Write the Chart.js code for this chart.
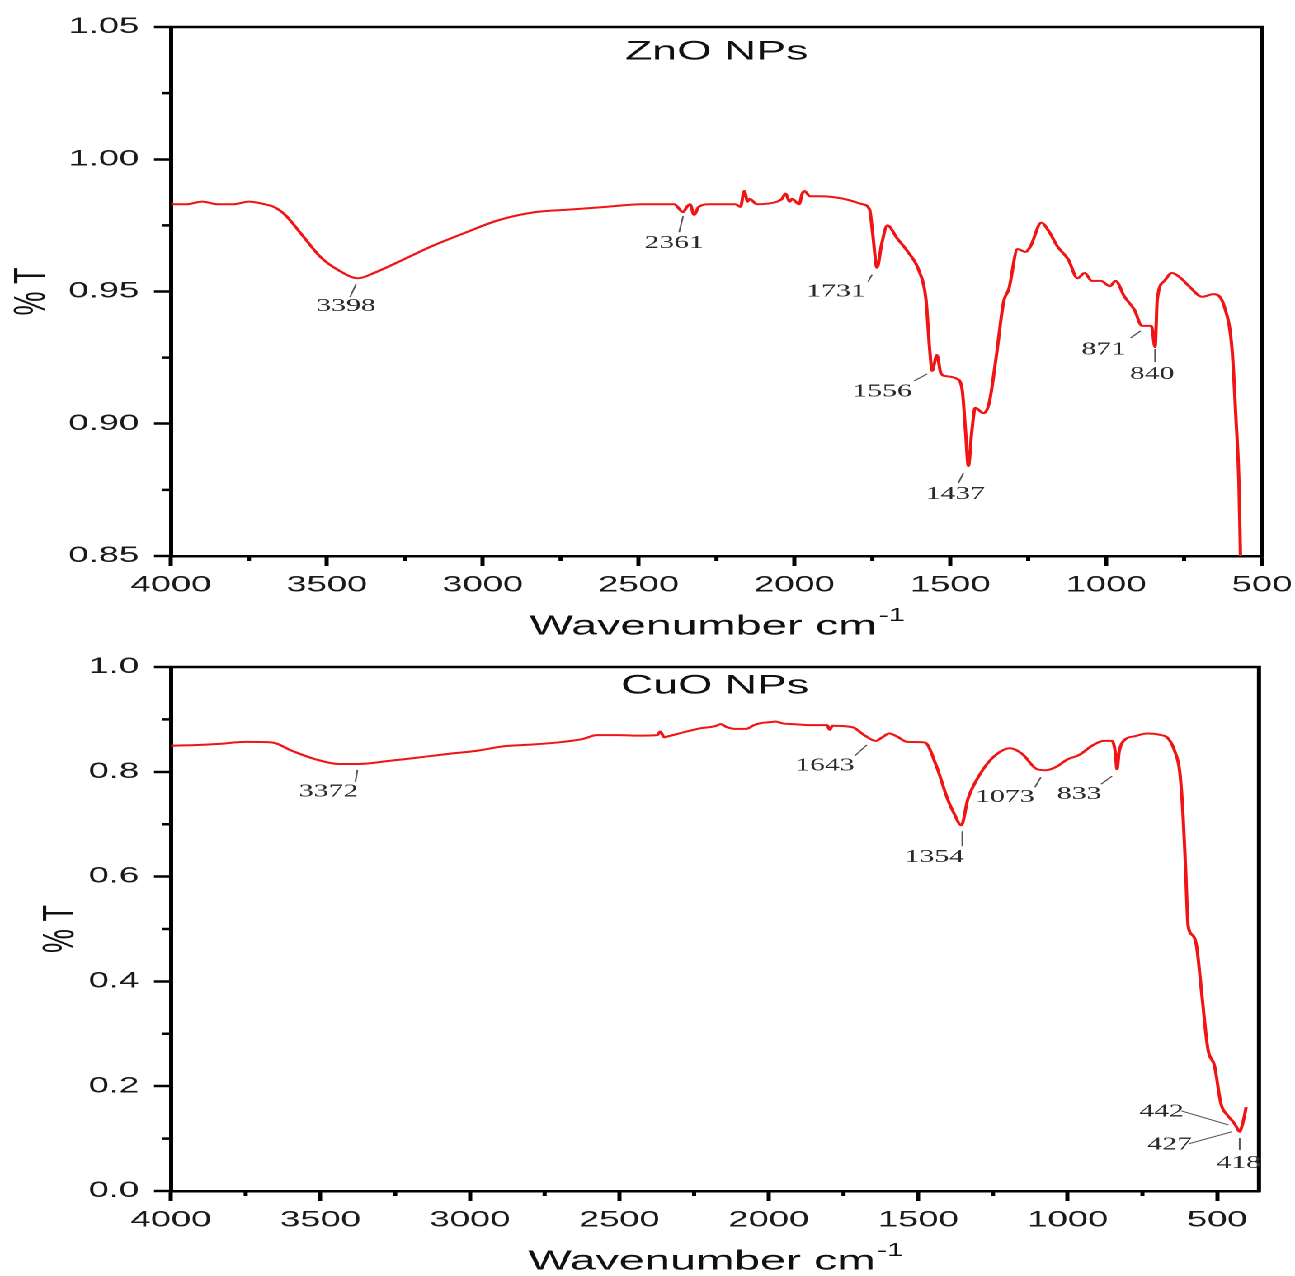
<!DOCTYPE html>
<html>
<head>
<meta charset="utf-8">
<script src="https://cdn.jsdelivr.net/npm/chart.js@4.4.1/dist/chart.umd.min.js"></script>
<style>
  html, body { margin: 0; padding: 0; background: #fff; }
  body { width: 1295px; height: 1276px; overflow: hidden; }
  /* the original figure is stretched sideways, so the charts are drawn narrow and widened */
  #wrap { width: 785px; transform: scaleX(1.6497); transform-origin: 0 0; }
  canvas { display: block; }
</style>
</head>
<body>
<div id="wrap">
  <canvas id="znoChart" width="785" height="640"></canvas>
  <canvas id="cuoChart" width="785" height="636"></canvas>
</div>
<script>
const STRETCH = 1295 / 785;

// ZnO NPs spectrum (wavenumber cm-1, %T)
const znoWavenumber = [4000, 3950, 3900, 3850, 3800, 3750, 3700, 3670, 3634, 3577, 3520, 3462, 3400, 3349, 3256, 3166, 3061, 2948, 2832, 2718, 2604, 2489, 2386, 2357, 2345, 2335, 2322, 2307, 2272, 2190, 2173, 2161, 2150, 2144, 2120, 2055, 2040, 2029, 2015, 2008, 1985, 1975, 1968, 1950, 1921, 1840, 1782, 1759, 1749, 1735, 1720, 1702, 1670, 1636, 1601, 1578, 1566, 1558, 1543, 1530, 1514, 1479, 1462, 1451, 1442, 1431, 1420, 1393, 1375, 1353, 1329, 1312, 1284, 1259, 1243, 1208, 1185, 1156, 1121, 1092, 1069, 1046, 1017, 988, 970, 941, 909, 885, 855, 843, 836, 813, 789, 760, 734, 692, 656, 620, 596, 584, 574, 569, 563];
const znoTransmittance = [0.983, 0.983, 0.984, 0.983, 0.983, 0.984, 0.983, 0.982, 0.979, 0.971, 0.963, 0.958, 0.955, 0.957, 0.962, 0.967, 0.972, 0.977, 0.980, 0.981, 0.982, 0.983, 0.983, 0.980, 0.982, 0.983, 0.979, 0.982, 0.983, 0.983, 0.982, 0.988, 0.984, 0.985, 0.983, 0.984, 0.985, 0.987, 0.984, 0.985, 0.983, 0.987, 0.988, 0.986, 0.986, 0.985, 0.983, 0.981, 0.972, 0.959, 0.968, 0.975, 0.970, 0.965, 0.958, 0.947, 0.928, 0.920, 0.926, 0.919, 0.918, 0.917, 0.913, 0.897, 0.884, 0.897, 0.906, 0.904, 0.908, 0.925, 0.946, 0.951, 0.966, 0.965, 0.967, 0.976, 0.973, 0.967, 0.962, 0.955, 0.957, 0.954, 0.954, 0.952, 0.954, 0.948, 0.943, 0.937, 0.937, 0.929, 0.947, 0.954, 0.957, 0.955, 0.952, 0.948, 0.949, 0.944, 0.928, 0.903, 0.878, 0.850, 0.830];

// CuO NPs spectrum
const cuoWavenumber = [4000, 3920, 3846, 3749, 3662, 3595, 3517, 3440, 3373, 3267, 3175, 3075, 2979, 2883, 2790, 2690, 2620, 2576, 2500, 2440, 2373, 2363, 2350, 2335, 2288, 2229, 2180, 2161, 2140, 2113, 2075, 2050, 2026, 1990, 1979, 1950, 1921, 1860, 1805, 1796, 1787, 1719, 1681, 1642, 1620, 1597, 1570, 1537, 1478, 1440, 1402, 1380, 1356, 1334, 1296, 1249, 1193, 1152, 1103, 1073, 1040, 1000, 962, 918, 879, 852, 841, 835, 828, 813, 774, 735, 696, 663, 641, 625, 614, 606, 597, 580, 569, 553, 531, 509, 487, 465, 445, 435, 425, 418, 410, 403];
const cuoTransmittance = [0.850, 0.851, 0.853, 0.857, 0.856, 0.840, 0.824, 0.815, 0.815, 0.821, 0.827, 0.834, 0.840, 0.849, 0.852, 0.857, 0.863, 0.870, 0.870, 0.869, 0.870, 0.877, 0.866, 0.868, 0.875, 0.883, 0.887, 0.891, 0.885, 0.882, 0.882, 0.889, 0.893, 0.895, 0.896, 0.892, 0.891, 0.889, 0.889, 0.880, 0.888, 0.885, 0.870, 0.859, 0.866, 0.873, 0.867, 0.857, 0.856, 0.812, 0.748, 0.720, 0.698, 0.748, 0.793, 0.828, 0.845, 0.834, 0.805, 0.803, 0.809, 0.824, 0.832, 0.850, 0.859, 0.859, 0.838, 0.805, 0.838, 0.859, 0.868, 0.873, 0.871, 0.863, 0.838, 0.799, 0.716, 0.621, 0.506, 0.487, 0.468, 0.385, 0.271, 0.239, 0.166, 0.144, 0.131, 0.122, 0.113, 0.122, 0.140, 0.160];

// axis ticks
const xTickValues = [4000, 3500, 3000, 2500, 2000, 1500, 1000, 500];
const xMinorTicks = [3750, 3250, 2750, 2250, 1750, 1250, 750];
const znoYTicks = [0.85, 0.90, 0.95, 1.00, 1.05];
const znoYMinor = [0.875, 0.925, 0.975, 1.025];
const cuoYTicks = [0.0, 0.2, 0.4, 0.6, 0.8, 1.0];
const cuoYMinor = [0.1, 0.3, 0.5, 0.7, 0.9];

// peak labels: anchor on the curve, leader line and text offsets (page px)
const znoPeaks = [
  { label: '3398', x: 3400, y: 0.955, line: [-2, 6, -8, 19], text: [-12, 28] },
  { label: '2361', x: 2357, y: 0.980, line: [0, 4, -4, 20], text: [-9, 31] },
  { label: '1731', x: 1735, y: 0.959, line: [-5, 7, -9, 14], text: [-41, 24] },
  { label: '1556', x: 1558, y: 0.920, line: [-5, 3, -18, 10], text: [-50, 21] },
  { label: '1437', x: 1442, y: 0.884, line: [-5, 7, -10, 17], text: [-13, 28] },
  { label: '871', x: 870, y: 0.937, line: [-6, 5, -16, 12], text: [-43, 24] },
  { label: '840', x: 843, y: 0.929, line: [0, 2, 0, 15], text: [-3, 27] }
];
const cuoPeaks = [
  { label: '3372', x: 3373, y: 0.815, line: [-1, 6, -3, 18], text: [-30, 28] },
  { label: '1643', x: 1642, y: 0.859, line: [-9, 4, -21, 15], text: [-51, 25] },
  { label: '1354', x: 1356, y: 0.698, line: [1, 6, 1, 21], text: [-27, 32] },
  { label: '1073', x: 1073, y: 0.803, line: [-5, 7, -11, 17], text: [-41, 27] },
  { label: '833', x: 835, y: 0.805, line: [-5, 7, -16, 15], text: [-38, 25] },
  { label: '442', x: 442, y: 0.128, line: [-6, 1, -53, -13], text: [-73, -12] },
  { label: '427', x: 425, y: 0.113, line: [-8, 0, -51, 12], text: [-70, 13] },
  { label: '418', x: 418, y: 0.122, line: [-2, 11, -2, 23], text: [-3, 36] }
];

const SANS = '"Liberation Sans", Arial, sans-serif';
const SERIF = '"Liberation Serif", "Times New Roman", serif';

// frame, minor ticks, titles and peak labels
const decorPlugin = {
  id: 'decor',
  afterDraw(chart, args, opts) {
    const ctx = chart.ctx;
    const a = chart.chartArea;
    const xs = chart.scales.x, ys = chart.scales.y;
    ctx.save();
    ctx.strokeStyle = '#000';
    ctx.lineWidth = 2.5;
    ctx.beginPath();
    ctx.moveTo(a.left - 1.2, a.top);
    ctx.lineTo(a.right, a.top);
    ctx.lineTo(a.right, a.bottom + 1.2);
    ctx.stroke();

    // minor ticks
    ctx.beginPath();
    opts.xMinor.forEach(v => {
      const px = xs.getPixelForValue(v);
      ctx.moveTo(px, a.bottom);
      ctx.lineTo(px, a.bottom + 5);
    });
    opts.yMinor.forEach(v => {
      const py = ys.getPixelForValue(v);
      ctx.moveTo(a.left, py);
      ctx.lineTo(a.left - 5.5, py);
    });
    ctx.stroke();

    // title inside the plot
    ctx.fillStyle = '#111';
    ctx.textAlign = 'center';
    ctx.textBaseline = 'middle';
    ctx.font = '27px ' + SANS;
    const cx = (a.left + a.right) / 2;
    ctx.fillText(opts.title, cx, a.top + opts.titleDy);

    // x axis title with superscript
    ctx.textAlign = 'left';
    ctx.font = '28px ' + SANS;
    const main = 'Wavenumber cm';
    const w1 = ctx.measureText(main).width;
    ctx.font = '18px ' + SANS;
    const w2 = ctx.measureText('-1').width;
    const x0 = cx - (w1 + w2) / 2;
    const ty = a.bottom + opts.xTitleDy;
    ctx.font = '28px ' + SANS;
    ctx.fillText(main, x0, ty);
    ctx.font = '18px ' + SANS;
    ctx.fillText('-1', x0 + w1 + 1, ty - 11);

    // y axis title
    ctx.save();
    ctx.translate(opts.yTitleX / STRETCH, (a.top + a.bottom) / 2);
    ctx.rotate(-Math.PI / 2);
    ctx.textAlign = 'center';
    ctx.font = '27px ' + SANS;
    ctx.fillText('% T', 0, 0);
    ctx.restore();

    // peak labels
    ctx.strokeStyle = '#555';
    ctx.lineWidth = 1;
    ctx.fillStyle = '#2a2a2a';
    ctx.textAlign = 'center';
    ctx.font = '18px ' + SERIF;
    opts.peaks.forEach(p => {
      const px = xs.getPixelForValue(p.x);
      const py = ys.getPixelForValue(p.y);
      ctx.beginPath();
      ctx.moveTo(px + p.line[0] / STRETCH, py + p.line[1]);
      ctx.lineTo(px + p.line[2] / STRETCH, py + p.line[3]);
      ctx.stroke();
      ctx.fillText(p.label, px + p.text[0] / STRETCH, py + p.text[1]);
    });
    ctx.restore();
  }
};

function buildChart(id, cfg) {
  const points = cfg.wn.map((w, i) => ({ x: w, y: cfg.t[i] }));
  return new Chart(document.getElementById(id), {
    type: 'line',
    data: {
      datasets: [{
        data: points,
        borderColor: '#f01414',
        borderWidth: 2,
        pointRadius: 0,
        cubicInterpolationMode: 'monotone',
        fill: false
      }]
    },
    options: {
      responsive: false,
      animation: false,
      devicePixelRatio: 2,
      layout: { padding: { top: 27, right: cfg.padRight, left: 0, bottom: 0 } },
      plugins: {
        legend: { display: false },
        tooltip: { enabled: false },
        decor: cfg.decor
      },
      scales: {
        x: {
          type: 'linear',
          reverse: true,
          min: cfg.xMin,
          max: 4000,
          afterBuildTicks: s => { s.ticks = xTickValues.map(v => ({ value: v })); },
          afterFit: s => {
            s.height = cfg.xHeight;
            // the frame position is fixed by the layout padding, not by label overflow
            s.paddingLeft = 0;
            s.paddingRight = 0;
          },
          ticks: {
            callback: v => String(v),
            font: { family: SANS, size: 22 },
            color: '#1a1a1a',
            padding: 6,
            maxRotation: 0,
            autoSkip: false
          },
          grid: { drawOnChartArea: false, drawTicks: true, tickLength: 10, tickWidth: 2.5, tickColor: '#000' },
          border: { display: true, color: '#000', width: 2.5 }
        },
        y: {
          type: 'linear',
          min: cfg.yMin,
          max: cfg.yMax,
          afterBuildTicks: s => { s.ticks = cfg.yTicks.map(v => ({ value: v })); },
          afterFit: s => {
            s.width = 171 / STRETCH;
            s.paddingTop = 0;
            s.paddingBottom = 0;
          },
          ticks: {
            callback: v => v.toFixed(cfg.digits),
            font: { family: SANS, size: 22 },
            color: '#1a1a1a',
            padding: 9,
            autoSkip: false
          },
          grid: { drawOnChartArea: false, drawTicks: true, tickLength: 10.3, tickWidth: 2.5, tickColor: '#000' },
          border: { display: true, color: '#000', width: 2.5 }
        }
      }
    },
    plugins: [decorPlugin]
  });
}

document.addEventListener('DOMContentLoaded', function () {
  buildChart('znoChart', {
    wn: znoWavenumber, t: znoTransmittance,
    xMin: 500, yMin: 0.85, yMax: 1.05, yTicks: znoYTicks, digits: 2,
    padRight: 785 - 1262 / STRETCH, xHeight: 84,
    decor: { title: 'ZnO NPs', titleDy: 25, xTitleDy: 71, yTitleX: 32, xMinor: xMinorTicks, yMinor: znoYMinor, peaks: znoPeaks }
  });
  buildChart('cuoChart', {
    wn: cuoWavenumber, t: cuoTransmittance,
    xMin: 360, yMin: 0, yMax: 1.0, yTicks: cuoYTicks, digits: 1,
    padRight: 785 - 1259 / STRETCH, xHeight: 85,
    decor: { title: 'CuO NPs', titleDy: 19, xTitleDy: 71, yTitleX: 61, xMinor: xMinorTicks, yMinor: cuoYMinor, peaks: cuoPeaks }
  });
});
</script>
</body>
</html>
